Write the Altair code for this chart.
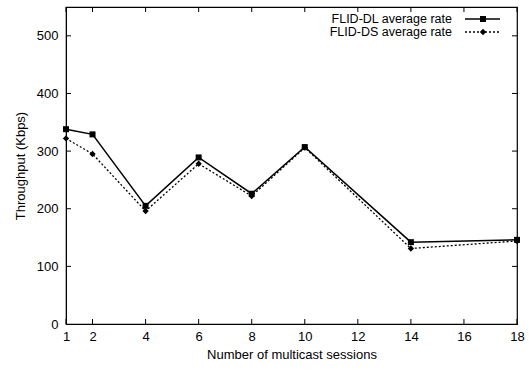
import altair as alt
import pandas as pd

sessions = [1, 2, 4, 6, 8, 10, 14, 18]
dl_rate = [338, 329, 205, 289, 226, 307, 142, 146]
ds_rate = [322, 295, 196, 278, 222, 306, 131, 144]
x_ticks = [1, 2, 4, 6, 8, 10, 12, 14, 16, 18]
y_ticks = [0, 100, 200, 300, 400, 500]
series_names = ["FLID-DL average rate", "FLID-DS average rate"]

FONT = "Liberation Sans"
FS = 13
W, H = 451, 317

df = pd.DataFrame({
    "x": sessions * 2,
    "y": dl_rate + ds_rate,
    "s": [series_names[0]] * len(sessions) + [series_names[1]] * len(sessions),
})
dl = df[df.s == series_names[0]]
ds = df[df.s == series_names[1]]

xs = alt.Scale(domain=[1, 18], nice=False, zero=False)
ys = alt.Scale(domain=[0, 550], nice=False)

xaxis = alt.Axis(values=x_ticks, title="Number of multicast sessions", tickSize=0,
                 labelPadding=6, titlePadding=5, grid=False, labelFontSize=FS, labelFlush=False,
                 titleFontSize=FS, titleFontWeight="normal", labelFont=FONT, titleFont=FONT,
                 domainColor="black", labelColor="black", titleColor="black")
yaxis = alt.Axis(values=y_ticks, title="Throughput (Kbps)", tickSize=0,
                 labelPadding=8, titlePadding=9, grid=False, labelFontSize=FS, labelFlush=False,
                 titleFontSize=FS, titleFontWeight="normal", labelFont=FONT, titleFont=FONT,
                 domainColor="black", labelColor="black", titleColor="black")

X = alt.X("x:Q", scale=xs, axis=xaxis)
Y = alt.Y("y:Q", scale=ys, axis=yaxis)

line_dl = alt.Chart(dl).mark_line(color="black", strokeWidth=1.5).encode(x=X, y=Y)
pts_dl = alt.Chart(dl).mark_point(shape="square", filled=True, color="black", size=36, opacity=1).encode(x=X, y=Y)
line_ds = alt.Chart(ds).mark_line(color="black", strokeWidth=1.3, strokeDash=[2, 2]).encode(x=X, y=Y)
pts_ds = alt.Chart(ds).mark_point(shape="diamond", filled=True, color="black", size=40, opacity=1).encode(x=X, y=Y)

xt = pd.DataFrame({"x": x_ticks})
yt = pd.DataFrame({"y": y_ticks[1:]})
TL = 5
tick_bottom = alt.Chart(xt).mark_rule(color="black").encode(x=X, y=alt.value(H), y2=alt.value(H - TL))
tick_top = alt.Chart(xt).mark_rule(color="black").encode(x=X, y=alt.value(0), y2=alt.value(TL))
tick_left = alt.Chart(yt).mark_tick(color="black", orient="horizontal", size=TL, thickness=1, opacity=1).encode(
    y=Y, x=alt.value(TL / 2))
tick_right = alt.Chart(yt).mark_tick(color="black", orient="horizontal", size=TL, thickness=1, opacity=1).encode(
    y=Y, x=alt.value(W - TL / 2))

# legend
leg = pd.DataFrame({"name": series_names})
LX = 386
LFS = 12.5
R1, R2 = 12, 25
leg_text1 = alt.Chart(leg.iloc[[0]]).mark_text(align="right", baseline="middle", font=FONT, fontSize=LFS, color="black").encode(
    text="name:N", x=alt.value(LX), y=alt.value(R1))
leg_text2 = alt.Chart(leg.iloc[[1]]).mark_text(align="right", baseline="middle", font=FONT, fontSize=LFS, color="black").encode(
    text="name:N", x=alt.value(LX), y=alt.value(R2))
leg_line1 = alt.Chart(leg.iloc[[0]]).mark_rule(color="black", strokeWidth=1.5).encode(
    x=alt.value(399), x2=alt.value(434), y=alt.value(R1))
leg_line2 = alt.Chart(leg.iloc[[1]]).mark_rule(color="black", strokeWidth=1.3, strokeDash=[2, 2]).encode(
    x=alt.value(399), x2=alt.value(434), y=alt.value(R2))
leg_pt1 = alt.Chart(leg.iloc[[0]]).mark_point(shape="square", filled=True, color="black", size=36, opacity=1).encode(
    x=alt.value(417), y=alt.value(R1))
leg_pt2 = alt.Chart(leg.iloc[[1]]).mark_point(shape="diamond", filled=True, color="black", size=40, opacity=1).encode(
    x=alt.value(417), y=alt.value(R2))

chart = alt.layer(
    line_ds, pts_ds, line_dl, pts_dl,
    tick_bottom, tick_top, tick_left, tick_right,
    leg_text1, leg_text2, leg_line1, leg_line2, leg_pt1, leg_pt2,
).properties(
    width=W, height=H,
    background="white",
    autosize=alt.AutoSizeParams(type="none"),
    padding={"left": 66, "top": 7, "right": 12, "bottom": 46},
).configure_view(stroke="black", strokeWidth=1.2)

chart.save("out.html", embed_options={"renderer": "svg", "actions": False})
